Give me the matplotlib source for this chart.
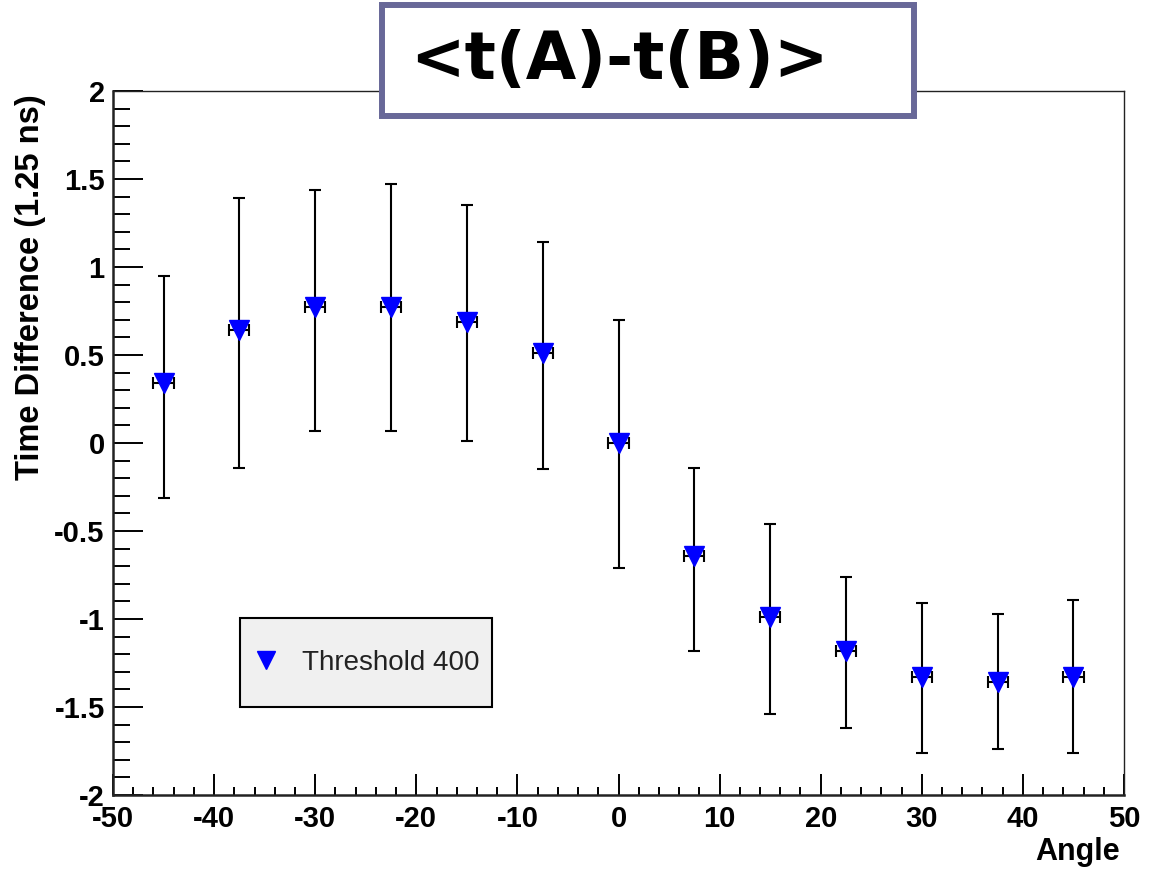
import matplotlib
matplotlib.use("Agg")
import matplotlib.pyplot as plt
from matplotlib.patches import Rectangle
from matplotlib.lines import Line2D
from matplotlib.ticker import MultipleLocator
import numpy as np

angles = [-45, -37.5, -30, -22.5, -15, -7.5, 0, 7.5, 15, 22.5, 30, 37.5, 45]
angle_err = [1.0] * 13
time_diff = [0.34, 0.64, 0.77, 0.77, 0.69, 0.51, 0.0, -0.64, -0.99, -1.18, -1.33, -1.36, -1.33]
err_low = [0.65, 0.78, 0.70, 0.70, 0.68, 0.66, 0.71, 0.54, 0.55, 0.44, 0.43, 0.38, 0.43]
err_high = [0.61, 0.75, 0.67, 0.70, 0.66, 0.63, 0.70, 0.50, 0.53, 0.42, 0.42, 0.39, 0.44]

title_text = "<t(A)-t(B)>"
legend_label = "Threshold 400"
x_label = "Angle"
y_label = "Time Difference (1.25 ns)"

W, H = 1158, 869
fig = plt.figure(figsize=(W / 100, H / 100), dpi=100)
L, R, T, B = 113, 1124, 91, 795
ax = fig.add_axes([L / W, 1 - B / H, (R - L) / W, (B - T) / H])

tickfont = dict(family="Liberation Sans", weight="bold", size=21)

ax.errorbar(angles, time_diff, xerr=angle_err, yerr=[err_low, err_high],
            fmt="none", ecolor="black", elinewidth=1.5, capsize=4.3, capthick=1.5, zorder=2)
ax.plot(angles, time_diff, linestyle="none", marker="v", color="#0000ff",
        markersize=14, zorder=3)

ax.set_xlim(-50, 50)
ax.set_ylim(-2, 2)
ax.xaxis.set_major_locator(MultipleLocator(10))
ax.xaxis.set_minor_locator(MultipleLocator(2))
ax.yaxis.set_major_locator(MultipleLocator(0.5))
ax.yaxis.set_minor_locator(MultipleLocator(0.1))

ax.tick_params(axis="x", which="major", direction="in", length=15, width=1.4, pad=7)
ax.tick_params(axis="x", which="minor", direction="in", length=6, width=1.4)
ax.tick_params(axis="y", which="major", direction="in", length=21.6, width=1.4, pad=6)
ax.tick_params(axis="y", which="minor", direction="in", length=12, width=1.4)

def fmt(v):
    return f"{v:g}"

xt = np.arange(-50, 51, 10)
ax.set_xticks(xt)
ax.set_xticklabels([fmt(v) for v in xt], fontdict=tickfont)
yt = np.arange(-2, 2.01, 0.5)
ax.set_yticks(yt)
ax.set_yticklabels([fmt(round(v, 1)) for v in yt], fontdict=tickfont)

for s in ["left", "bottom"]:
    ax.spines[s].set_linewidth(1.8)
for s in ["top", "right"]:
    ax.spines[s].set_linewidth(1.0)
for sp in ax.spines.values():
    sp.set_color("#222222")

fig.text(1120 / W, 1 - 852 / H, x_label, ha="right", va="center",
         family="Liberation Sans", weight="bold", size=22)
fig.text(31 / W, 1 - 94 / H, y_label, ha="center", va="top", rotation=90,
         family="Liberation Sans", weight="bold", size=23.5)

# Title box
fig.patches.append(Rectangle((382 / W, 1 - 116 / H), 532 / W, 111 / H,
                             transform=fig.transFigure, facecolor="white",
                             edgecolor="#686898", linewidth=4.3, zorder=5))
fig.text(410 / W, 1 - 61 / H, title_text, ha="left", va="center",
         family="DejaVu Sans", weight="bold", size=47, zorder=6)

# Legend
fig.patches.append(Rectangle((240 / W, 1 - 707 / H), 252 / W, 89 / H,
                             transform=fig.transFigure, facecolor="#f0f0f0",
                             edgecolor="black", linewidth=1.5, zorder=5))
handle = Line2D([], [], linestyle="none", marker="v", color="#0000ff", markersize=13)
leg = fig.legend([handle], [legend_label], loc="center left",
                 bbox_to_anchor=(252 / W, 1 - 663 / H), frameon=False,
                 prop=dict(family="Liberation Sans", size=20),
                 handlelength=1.0, handletextpad=0.8, borderaxespad=0, borderpad=0)
for t in leg.get_texts():
    t.set_color("#222222")
leg.set_zorder(6)

fig.savefig("out.png", dpi=100)
